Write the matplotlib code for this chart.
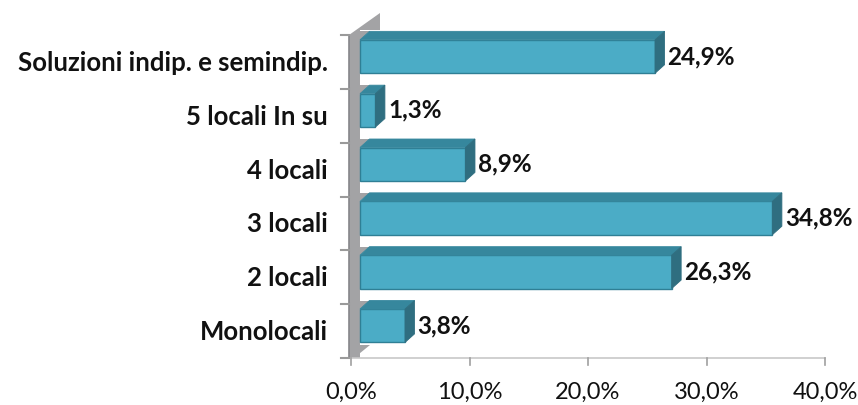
import matplotlib
matplotlib.use("Agg")
import matplotlib.pyplot as plt
from matplotlib.patches import Polygon

categories = ["Monolocali", "2 locali", "3 locali", "4 locali", "5 locali In su",
              "Soluzioni indip. e semindip."]
values = [3.8, 26.3, 34.8, 8.9, 1.3, 24.9]
value_labels = ["3,8%", "26,3%", "34,8%", "8,9%", "1,3%", "24,9%"]
xticks = [0, 10, 20, 30, 40]
xtick_labels = ["0,0%", "10,0%", "20,0%", "30,0%", "40,0%"]

FONT = ["Lato", "DejaVu Sans"]
W, H = 858, 405
fig = plt.figure(figsize=(W / 100, H / 100), dpi=100)
x0px, x1px = 351, 825
ytop, ybot = 35, 358
ax = fig.add_axes([x0px / W, (H - ybot) / H, (x1px - x0px) / W, (ybot - ytop) / H])
ax.set_xlim(0, 40)
ax.set_ylim(-0.5, 5.5)
ax.axis("off")

pxx = (x1px - x0px) / 40.0
pxy = (ybot - ytop) / 6.0


def px2x(p):
    return (p - x0px) / pxx


def dy(p):
    return p / pxy


front_col = "#4BACC6"
top_col = "#36879d"
side_col = "#2f6e80"
edge_col = "#2f7f95"
wall_col = "#a3a3a5"
wall_edge = "#86868a"

x_start = px2x(360)
ddx = 9.5 / pxx
ddy = dy(8.5)
rb, rt = -0.21, 0.41

# wall strip
wl, wr = px2x(349), x_start
ax.add_patch(Polygon([(wl, -0.5), (wl, 5.5), (wr, 5.5), (wr, -0.5)], closed=True,
                     facecolor=wall_col, edgecolor="none", clip_on=False, zorder=1))
# wall top slant
ax.add_patch(Polygon([(wl, 5.5), (px2x(380), 5.5 + dy(22)), (px2x(380), 5.5 + dy(5)),
                      (wr, 5.5 + dy(5)), (wr, 5.5)], closed=True,
                     facecolor=wall_col, edgecolor="none", clip_on=False, zorder=1))
# wall bottom slant
ax.add_patch(Polygon([(wl, -0.5), (px2x(354), -0.5), (px2x(370), -0.5 + dy(13)),
                      (wl, -0.5 + dy(13))], closed=True,
                     facecolor=wall_col, edgecolor="none", clip_on=False, zorder=1))
ax.plot([wl, wl], [-0.5, 5.5], color=wall_edge, lw=1.2, clip_on=False, zorder=2)

# x axis line & ticks
ax.plot([wl, 40], [-0.5, -0.5], color="#c8c8c8", lw=1.2, clip_on=False, zorder=2)
for t, lab in zip(xticks, xtick_labels):
    ax.plot([t, t], [-0.5, -0.5 - dy(7)], color="#a0a0a0", lw=1.2, clip_on=False, zorder=2)
    ax.text(t, -0.5 - dy(34), lab, ha="center", va="center", fontsize=17,
            family=FONT, color="#111111")
# y ticks at band boundaries
for k in range(7):
    ax.plot([px2x(341), wl], [k - 0.5, k - 0.5], color="#9a9a9a", lw=1.5,
            clip_on=False, zorder=2)

for i, (v, lab) in enumerate(zip(values, value_labels)):
    b, t = i + rb, i + rt
    xs, xe = x_start, x_start + v
    # wall triangle left of top face
    ax.add_patch(Polygon([(xs, t), (xs, t + ddy), (xs + ddx, t + ddy)], closed=True,
                         facecolor=wall_col, edgecolor="none", zorder=2, clip_on=False))
    # front face
    ax.barh(i + (rb + rt) / 2, v, height=rt - rb, left=xs, color=front_col,
            edgecolor=edge_col, linewidth=1.0, zorder=3)
    # top face
    ax.add_patch(Polygon([(xs, t), (xs + ddx, t + ddy), (xe + ddx, t + ddy), (xe, t)],
                         closed=True, facecolor=top_col, edgecolor=top_col, lw=0.6,
                         zorder=3, clip_on=False))
    # side face
    ax.add_patch(Polygon([(xe, b), (xe, t), (xe + ddx, t + ddy), (xe + ddx, b + ddy)],
                         closed=True, facecolor=side_col, edgecolor=side_col, lw=0.6,
                         zorder=3, clip_on=False))
    ax.text(xe + ddx + 3 / pxx, i + 0.1, lab, ha="left", va="center", fontsize=17.5,
            fontweight="bold", family=FONT, color="#111111", clip_on=False)
    ax.text(px2x(328), i - 0.02, categories[i], ha="right", va="center", fontsize=18.5,
            fontweight="bold", family=FONT, color="#111111", clip_on=False)

fig.savefig("out.png", dpi=100, facecolor="white")
